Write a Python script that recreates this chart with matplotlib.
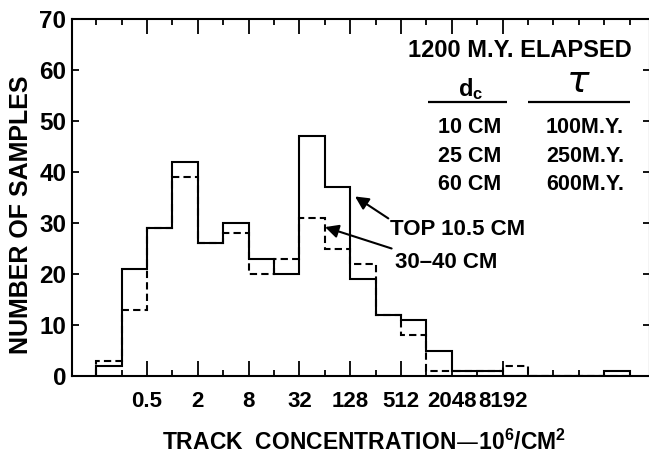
import numpy as np
import matplotlib
matplotlib.use("Agg")
import matplotlib.pyplot as plt
from matplotlib.ticker import FixedLocator, FixedFormatter, NullFormatter

# ---------------- data ----------------
bin_edges_log2 = list(range(-3, 19))          # bin edges as powers of two
top_10_5_cm = [2, 21, 29, 42, 26, 30, 23, 20, 47, 37, 19, 12, 11, 5, 1, 1, 0, 0, 0, 0, 1]
cm_30_40 = [3, 13, 29, 39, 26, 28, 20, 23, 31, 25, 22, 12, 8, 1, 1, 1, 2, 0, 0, 0, 0]
tick_values = [0.5, 2, 8, 32, 128, 512, 2048, 8192]
tick_labels = ["0.5", "2", "8", "32", "128", "512", "2048", "8192"]
yticks = [0, 10, 20, 30, 40, 50, 60, 70]
dc_rows = ["10 CM", "25 CM", "60 CM"]
tau_rows = ["100M.Y.", "250M.Y.", "600M.Y."]

plt.rcParams["font.family"] = ["Liberation Sans", "DejaVu Sans"]
plt.rcParams["font.weight"] = "bold"

W, H = 649, 454
fig = plt.figure(figsize=(W / 100, H / 100), dpi=100)
L, R, T, B = 72, 650, 19, 376
ax = fig.add_axes([L / W, 1 - B / H, (R - L) / W, (B - T) / H])

edges = 2.0 ** np.array(bin_edges_log2, dtype=float)
ax.set_xscale("log", base=2)
ax.stairs(cm_30_40, edges, baseline=0, color="black", lw=1.5,
          linestyle=(0, (3.5, 2.0)))
ax.stairs(top_10_5_cm, edges, baseline=0, color="black", lw=1.5)

ax.set_xlim(2 ** -3.95, 2 ** 18.8)
ax.set_ylim(0, 70)

major_pos = tick_values
minor_pos = [2.0 ** k for k in bin_edges_log2 if 2.0 ** k not in major_pos]
ax.xaxis.set_major_locator(FixedLocator(major_pos))
ax.xaxis.set_major_formatter(FixedFormatter(tick_labels))
ax.xaxis.set_minor_locator(FixedLocator(minor_pos))
ax.xaxis.set_minor_formatter(NullFormatter())
ax.set_yticks(yticks)
ax.set_yticklabels([str(v) for v in yticks])

for s in ax.spines.values():
    s.set_linewidth(1.5)
ax.tick_params(axis="x", which="major", direction="in", length=11, width=1.3,
               top=True, bottom=True, pad=10.5, labelsize=16)
ax.tick_params(axis="x", which="minor", direction="in", length=4.5, width=1.3,
               top=True, bottom=True)
ax.tick_params(axis="y", which="major", direction="in", length=5, width=1.3,
               left=True, right=True, pad=4, labelsize=17.5)

# axis titles
fig.text(364 / W, 1 - 449.5 / H, r"TRACK  CONCENTRATION—$\mathregular{10^6/CM^2}$",
         ha="center", va="baseline", fontsize=16.5, fontweight="bold")
fig.text(21.5 / W, 1 - 215 / H, "NUMBER OF SAMPLES", rotation=90,
         ha="center", va="center", fontsize=18, fontweight="bold")

# legend-like table
ax.text(2 ** 13.67, 62.5, "1200 M.Y. ELAPSED", ha="center", va="baseline",
        fontsize=17, fontweight="bold")
ax.text(2 ** 11.76, 54.8, r"$\mathregular{d_c}$", ha="center", va="baseline",
        fontsize=17, fontweight="bold")
ax.text(2 ** 15.98, 55.7, "τ", ha="center", va="baseline", fontsize=27,
        family="DejaVu Sans", style="italic", fontweight="normal")
ax.plot([2 ** 10.06, 2 ** 13.17], [53.7, 53.7], color="black", lw=1.6,
        solid_capstyle="butt")
ax.plot([2 ** 14.0, 2 ** 18.02], [53.7, 53.7], color="black", lw=1.6,
        solid_capstyle="butt")
for i, (a, b) in enumerate(zip(dc_rows, tau_rows)):
    yb = 47.6 - i * 5.6
    ax.text(2 ** 11.72, yb, a, ha="center", va="baseline", fontsize=15.5,
            fontweight="bold")
    ax.text(2 ** 16.24, yb, b, ha="center", va="baseline", fontsize=15.5,
            fontweight="bold")

# arrows and labels
ax.annotate("", xy=(2 ** 7.19, 35.2), xytext=(2 ** 8.50, 30.9),
            arrowprops=dict(arrowstyle="-|>", color="black", lw=1.5,
                            mutation_scale=20, shrinkA=0, shrinkB=0))
ax.annotate("", xy=(2 ** 6.01, 29.2), xytext=(2 ** 8.63, 25.0),
            arrowprops=dict(arrowstyle="-|>", color="black", lw=1.5,
                            mutation_scale=20, shrinkA=0, shrinkB=0))
ax.text(2 ** 8.57, 27.6, "TOP 10.5 CM", ha="left", va="baseline",
        fontsize=16, fontweight="bold")
ax.text(2 ** 8.76, 21.1, "30–40 CM", ha="left", va="baseline",
        fontsize=16, fontweight="bold")

fig.savefig("out.png", dpi=100)
